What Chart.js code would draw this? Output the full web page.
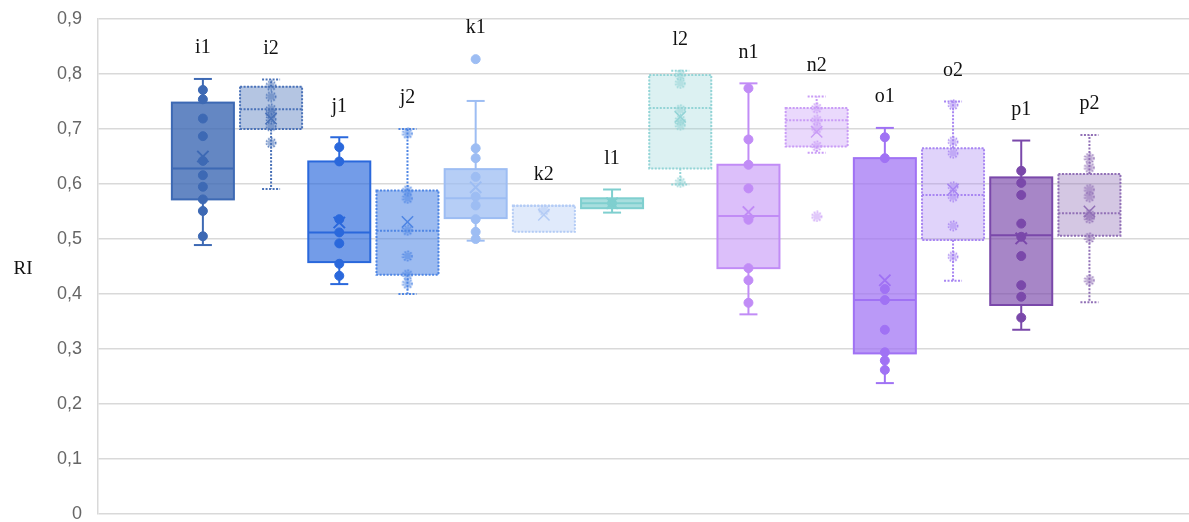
<!DOCTYPE html>
<html>
<head>
<meta charset="utf-8">
<script src="https://cdn.jsdelivr.net/npm/chart.js@4/dist/chart.umd.min.js"></script>
<style>
  html, body { margin: 0; padding: 0; background: #fff; }
  #wrap { width: 1189px; height: 522px; }
</style>
</head>
<body>
<div id="wrap"><canvas id="myChart" width="1189" height="522"></canvas></div>
<script>
// box plot values (RI)
const categories = ['i1', 'i2', 'j1', 'j2', 'k1', 'k2', 'l1', 'l2', 'n1', 'n2', 'o1', 'o2', 'p1', 'p2'];
const whiskerLow  = [0.489, 0.591, 0.418, 0.400, 0.497, 0.513, 0.548, 0.599, 0.363, 0.657, 0.238, 0.424, 0.335, 0.385];
const quartile1   = [0.572, 0.700, 0.458, 0.435, 0.538, 0.513, 0.556, 0.628, 0.447, 0.668, 0.292, 0.498, 0.380, 0.506];
const medians     = [0.628, 0.736, 0.512, 0.515, 0.574, 0.560, 0.565, 0.738, 0.542, 0.716, 0.389, 0.580, 0.507, 0.547];
const quartile3   = [0.748, 0.777, 0.641, 0.588, 0.627, 0.561, 0.574, 0.798, 0.635, 0.738, 0.647, 0.665, 0.612, 0.618];
const whiskerHigh = [0.791, 0.790, 0.685, 0.700, 0.751, 0.561, 0.590, 0.806, 0.783, 0.759, 0.702, 0.750, 0.679, 0.689];
const means       = [0.650, 0.719, 0.530, 0.531, 0.594, 0.544, 0.565, 0.722, 0.549, 0.695, 0.425, 0.590, 0.501, 0.550];
const innerPoints = [
  [0.771, 0.754, 0.719, 0.687, 0.642, 0.616, 0.595, 0.572, 0.551, 0.505],
  [0.779, 0.759, 0.736, 0.728, 0.718, 0.705, 0.675],
  [0.667, 0.641, 0.536, 0.512, 0.492, 0.455, 0.433],
  [0.692, 0.588, 0.574, 0.516, 0.469, 0.435, 0.419],
  [0.665, 0.647, 0.613, 0.577, 0.561, 0.536, 0.513, 0.500],
  [0.552],
  [0.565],
  [0.798, 0.783, 0.735, 0.716, 0.707, 0.603],
  [0.774, 0.681, 0.635, 0.592, 0.535, 0.447, 0.425, 0.384],
  [0.738, 0.716, 0.701, 0.669],
  [0.685, 0.647, 0.409, 0.389, 0.335, 0.294, 0.279, 0.262],
  [0.744, 0.677, 0.656, 0.595, 0.577, 0.524, 0.468],
  [0.624, 0.602, 0.580, 0.528, 0.504, 0.469, 0.416, 0.395, 0.357],
  [0.647, 0.630, 0.590, 0.577, 0.544, 0.538, 0.502, 0.425]
];
const outliers = [[], [], [], [], [0.827], [], [], [], [], [0.541], [], [], [], []];
const yTicks = [0, 0.1, 0.2, 0.3, 0.4, 0.5, 0.6, 0.7, 0.8, 0.9];

// styles
const strokeColors = ['#3d69b4', '#4a72b8', '#2a68dc', '#4f86e4', '#9dbdf3', '#b3cbf5', '#7fcfcf', '#93d4d6',
                      '#c18cf6', '#c99cf6', '#a072f4', '#a886f2', '#7a48aa', '#9170b6'];
const fillAlpha = [0.8, 0.41, 0.66, 0.56, 0.74, 0.41, 0.68, 0.32, 0.56, 0.39, 0.72, 0.36, 0.66, 0.39];
const dotted = categories.map(c => c.endsWith('2'));

const rgba = (hex, a) => {
  const n = parseInt(hex.slice(1), 16);
  return 'rgba(' + (n >> 16) + ',' + ((n >> 8) & 255) + ',' + (n & 255) + ',' + a + ')';
};

// dotted marker for the "2" series
const dotImages = strokeColors.map((col) => {
  const c = document.createElement('canvas');
  c.width = 12; c.height = 12;
  const g = c.getContext('2d');
  g.fillStyle = rgba(col, 0.55);
  g.beginPath(); g.arc(6, 6, 3.6, 0, Math.PI * 2); g.fill();
  g.strokeStyle = col; g.lineWidth = 1.6; g.setLineDash([1.6, 1.4]);
  g.beginPath(); g.arc(6, 6, 4.6, 0, Math.PI * 2); g.stroke();
  return c;
});

const pointData = [];
categories.forEach((c, i) => {
  innerPoints[i].concat(outliers[i]).forEach(v => pointData.push({ x: i + 1, y: v, b: i }));
});

const fmt = (v) => v === 0 ? '0' : v.toFixed(1).replace('.', ',');

const boxPlugin = {
  id: 'boxLines',
  afterDatasetDraw(chart, args) {
    if (args.index !== 0) return;
    const ctx = chart.ctx, ys = chart.scales.y;
    const bars = chart.getDatasetMeta(0).data;
    categories.forEach((c, i) => {
      const cx = bars[i].x, half = bars[i].width / 2;
      const yq1 = ys.getPixelForValue(quartile1[i]), yq3 = ys.getPixelForValue(quartile3[i]);
      const ym = ys.getPixelForValue(medians[i]);
      const ylo = ys.getPixelForValue(whiskerLow[i]), yhi = ys.getPixelForValue(whiskerHigh[i]);
      ctx.save();
      ctx.strokeStyle = strokeColors[i];
      ctx.lineWidth = 2;
      ctx.setLineDash(dotted[i] ? [2, 1.5] : []);
      const line = (x1, y1, x2, y2) => { ctx.beginPath(); ctx.moveTo(x1, y1); ctx.lineTo(x2, y2); ctx.stroke(); };
      ctx.strokeRect(cx - half, yq3, half * 2, yq1 - yq3);
      line(cx - half, ym, cx + half, ym);
      if (yhi < yq3 - 0.5) { line(cx, yq3, cx, yhi); line(cx - 9, yhi, cx + 9, yhi); }
      if (ylo > yq1 + 0.5) { line(cx, yq1, cx, ylo); line(cx - 9, ylo, cx + 9, ylo); }
      ctx.restore();
    });
  },
  afterDraw(chart) {
    const ctx = chart.ctx, ys = chart.scales.y, area = chart.chartArea;
    const bars = chart.getDatasetMeta(0).data;
    ctx.save();
    // y tick labels
    ctx.fillStyle = '#666';
    ctx.font = '18px "Liberation Sans", Arial, sans-serif';
    ctx.textAlign = 'right';
    ctx.textBaseline = 'middle';
    yTicks.forEach(v => ctx.fillText(fmt(v), area.left - 16, ys.getPixelForValue(v)));
    // category labels
    ctx.fillStyle = '#111';
    ctx.font = '20px "Liberation Serif", "Times New Roman", serif';
    ctx.textAlign = 'center';
    categories.forEach((c, i) => {
      const top = Math.max(whiskerHigh[i], ...outliers[i]);
      ctx.fillText(c, bars[i].x, ys.getPixelForValue(top) - 31);
    });
    ctx.font = '19px "Liberation Serif", "Times New Roman", serif';
    ctx.fillText('RI', 23, (area.top + area.bottom) / 2 + 3);
    ctx.restore();
  }
};

const ctx = document.getElementById('myChart').getContext('2d');
const myChart = new Chart(ctx, {
  data: {
    datasets: [
      {
        type: 'bar',
        data: categories.map((c, i) => ({ x: i + 1, y: [quartile1[i], quartile3[i]] })),
        backgroundColor: strokeColors.map((col, i) => rgba(col, fillAlpha[i])),
        borderWidth: 0,
        barThickness: 62,
        order: 3
      },
      {
        type: 'scatter',
        data: pointData,
        pointStyle: (c) => dotted[c.raw.b] ? dotImages[c.raw.b] : 'circle',
        pointRadius: 4.5,
        pointBackgroundColor: (c) => strokeColors[c.raw.b],
        pointBorderColor: (c) => strokeColors[c.raw.b],
        pointBorderWidth: 1,
        order: 2
      },
      {
        type: 'scatter',
        data: categories.map((c, i) => ({ x: i + 1, y: means[i] })),
        pointStyle: 'crossRot',
        pointRadius: 8,
        pointBorderWidth: (c) => dotted[c.dataIndex] ? 1.5 : 2,
        pointBorderColor: strokeColors,
        pointBackgroundColor: 'rgba(0,0,0,0)',
        order: 1
      }
    ]
  },
  options: {
    responsive: false,
    animation: false,
    devicePixelRatio: 1,
    layout: { autoPadding: false, padding: { top: 19, bottom: 8, left: 0, right: 0 } },
    plugins: { legend: { display: false }, tooltip: { enabled: false } },
    scales: {
      x: {
        type: 'linear',
        display: false,
        offset: false,
        min: -0.538,
        max: 15.46
      },
      y: {
        min: 0,
        max: 0.9,
        afterBuildTicks: (scale) => { scale.ticks = yTicks.map(v => ({ value: v })); },
        afterFit: (scale) => { scale.width = 98; },
        ticks: { display: false },
        grid: { color: '#d9d9d9', lineWidth: 1.5, drawTicks: false },
        border: { color: '#d9d9d9', width: 1.5 }
      }
    }
  },
  plugins: [boxPlugin]
});
</script>
</body>
</html>
